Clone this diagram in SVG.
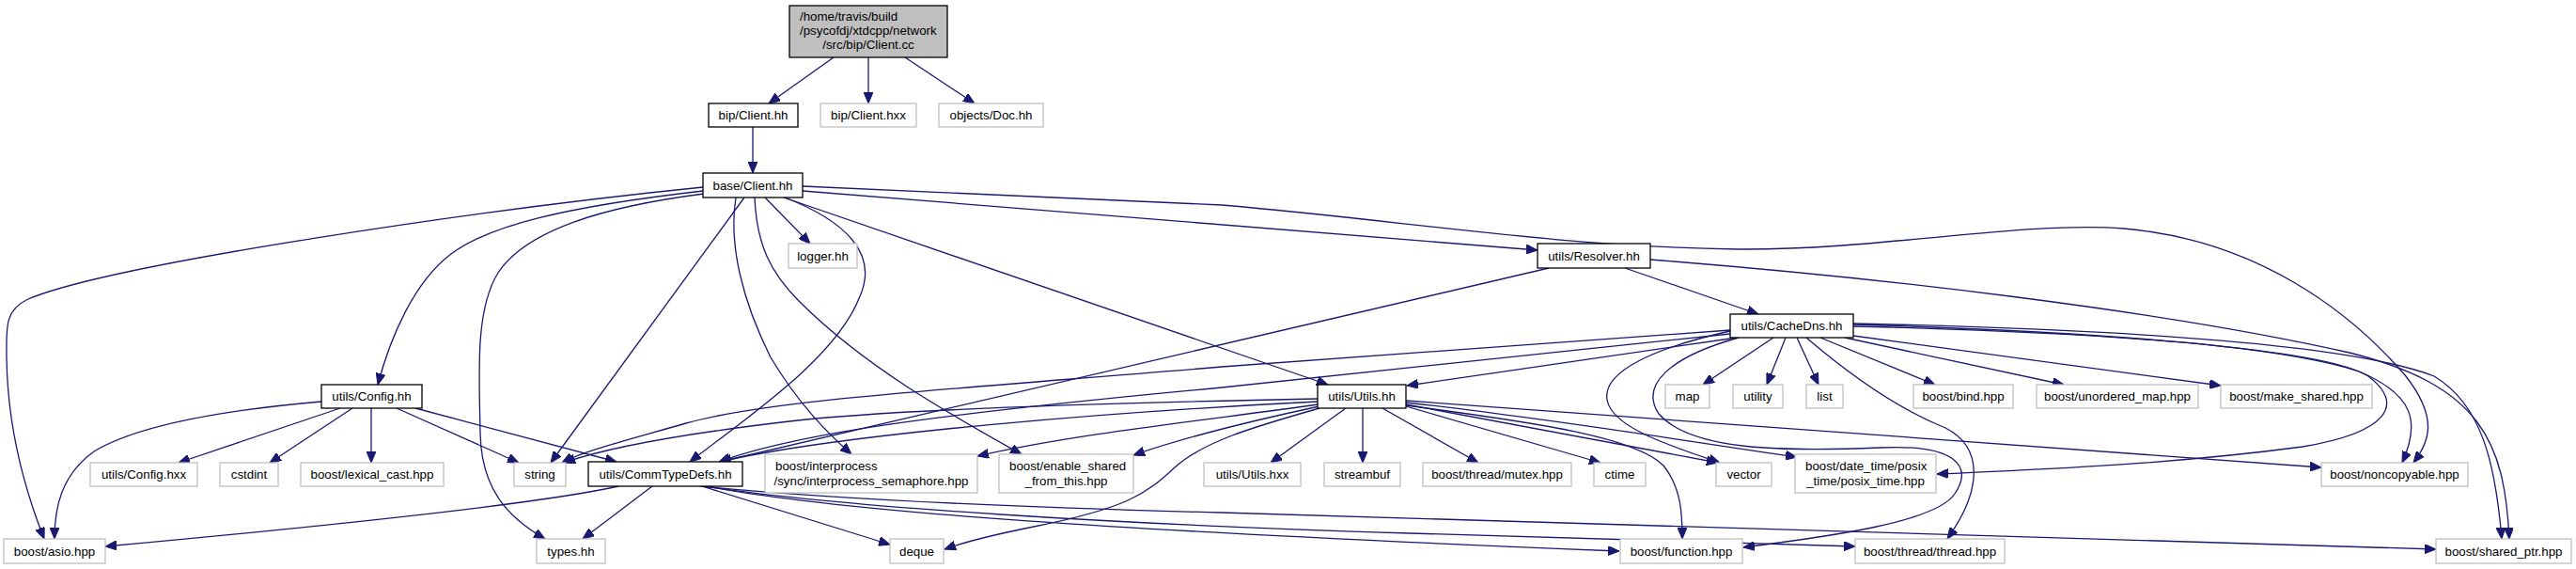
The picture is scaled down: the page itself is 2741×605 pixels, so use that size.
<svg xmlns="http://www.w3.org/2000/svg" width="2741" height="605" viewBox="0 0 2741 605">
<defs>
<style>
rect{fill:#fff;stroke-width:1.3}
.d rect{stroke:#000}
.x rect{stroke:#bfbfbf}
.r rect{fill:#bfbfbf;stroke:#000}
text{font-family:"Liberation Sans",Arial,sans-serif;font-size:13.3px;fill:#000;text-anchor:middle}
text.l{text-anchor:start}
#edges path{fill:none;stroke:#191970;stroke-width:1.3;marker-end:url(#a)}
</style>
<marker id="a" viewBox="0 0 12 10" refX="12" refY="5" markerWidth="12" markerHeight="10" markerUnits="userSpaceOnUse" orient="auto">
<path d="M0,0 L12,5 L0,10 z" fill="#191970" stroke="#191970"/>
</marker>
</defs>
<rect x="0" y="0" width="2741" height="605" style="fill:#fff;stroke:none"/>
<g id="edges">
<path d="M887,61 L818,110"/>
<path d="M924,61 L924,110"/>
<path d="M963,61 L1037,110"/>
<path d="M801,135 L801,184"/>
<path d="M748,199 C520,222 120,280 30,318 C4,330 7,350 7,380 C8,460 30,530 47,573"/>
<path d="M748,203 C600,220 520,240 480,270 C440,300 415,360 402,409"/>
<path d="M749,206 C640,220 560,245 530,290 C505,330 510,400 511,460 C512,520 540,550 580,573"/>
<path d="M792,210 L586,492"/>
<path d="M835,210 C900,235 935,270 915,315 C890,380 800,440 734,491"/>
<path d="M814,210 L862,259"/>
<path d="M783,210 C775,260 790,320 820,380 C850,430 880,460 906,483"/>
<path d="M803,210 C805,260 820,290 850,320 C920,390 1010,440 1087,483"/>
<path d="M834,210 L1413,409"/>
<path d="M854,203 L1636,266"/>
<path d="M854,198 L1300,218 C1500,235 1650,262 1850,265 C2000,266 2150,235 2260,243 C2400,255 2500,330 2560,400 C2595,445 2585,470 2568,492"/>
<path d="M1648,285 L766,491"/>
<path d="M1729,285 L1871,334"/>
<path d="M1756,276 C2000,295 2300,330 2500,375 C2640,410 2665,470 2670,573"/>
<path d="M1841,351 L1300,390 C1000,415 820,425 730,450 C660,470 620,480 598,492"/>
<path d="M1841,355 L1300,412 C1000,440 850,460 765,491"/>
<path d="M1848,359 L1497,410"/>
<path d="M1841,352 C1760,370 1705,395 1710,425 C1715,455 1780,475 1830,492"/>
<path d="M1850,359 C1775,380 1745,410 1765,440 C1800,480 1900,480 2000,476 C2080,472 2100,495 2080,525 C2060,555 1950,570 1855,582"/>
<path d="M1887,359 L1812,409"/>
<path d="M1900,359 L1880,409"/>
<path d="M1912,359 L1935,409"/>
<path d="M1922,359 C1970,400 2020,435 2070,455 C2110,475 2110,520 2072,573"/>
<path d="M1937,359 L2059,409"/>
<path d="M1963,359 L2196,409"/>
<path d="M1972,357 L2363,410"/>
<path d="M1972,345 C2200,352 2420,365 2510,395 C2570,420 2575,450 2556,492"/>
<path d="M1972,344 C2250,350 2500,365 2590,400 C2640,430 2655,490 2662,573"/>
<path d="M1972,347 C2300,355 2480,375 2520,400 C2560,430 2540,460 2450,475 C2300,495 2150,500 2061,504"/>
<path d="M342,427 C250,435 150,450 100,480 C65,505 58,540 58,573"/>
<path d="M362,434 L190,492"/>
<path d="M375,434 L287,492"/>
<path d="M395,434 L395,492"/>
<path d="M422,434 L552,492"/>
<path d="M442,434 L656,491"/>
<path d="M1402,424 C1200,428 950,435 840,448 C720,462 640,478 600,492"/>
<path d="M1402,427 C1200,437 900,460 766,491"/>
<path d="M1402,430 C1300,445 1150,460 1040,485"/>
<path d="M1404,432 C1320,450 1260,465 1206,484"/>
<path d="M1404,434 C1330,455 1280,470 1250,497 C1220,525 1200,540 1100,560 C1060,568 1030,575 1005,584"/>
<path d="M1432,434 L1352,492"/>
<path d="M1450,434 L1450,492"/>
<path d="M1471,434 L1573,492"/>
<path d="M1496,432 L1703,492"/>
<path d="M1496,430 L1828,492"/>
<path d="M1496,428 C1650,445 1800,470 1912,486"/>
<path d="M1496,431 C1640,450 1740,465 1770,495 C1790,520 1790,550 1790,573"/>
<path d="M1496,426 L2470,497"/>
<path d="M658,517 C600,530 450,550 112,581"/>
<path d="M694,517 L620,573"/>
<path d="M747,517 L947,579"/>
<path d="M752,517 C900,545 1200,565 1723,586"/>
<path d="M750,517 C900,540 1200,558 1500,567 C1700,573 1850,577 1974,581"/>
<path d="M745,517 C900,532 1100,540 1300,545 C1800,560 2200,572 2592,584"/>
</g>
<g id="root" class="r"><rect x="840" y="6" width="168" height="55"/><text class="l" x="851" y="22">/home/travis/build</text><text class="l" x="851" y="37">/psycofdj/xtdcpp/network</text><text x="924" y="52">/src/bip/Client.cc</text></g>
<g id="bip_client_hh" class="d"><rect x="754" y="110" width="95" height="25"/><text x="801.5" y="127">bip/Client.hh</text></g>
<g id="bip_client_hxx" class="x"><rect x="873" y="110" width="102" height="25"/><text x="924" y="127">bip/Client.hxx</text></g>
<g id="objects_doc" class="x"><rect x="999" y="110" width="111" height="25"/><text x="1054.5" y="127">objects/Doc.hh</text></g>
<g id="base_client" class="d"><rect x="748" y="184" width="106" height="26"/><text x="801" y="201.5">base/Client.hh</text></g>
<g id="logger" class="x"><rect x="839" y="259" width="73" height="26"/><text x="875.5" y="276.5">logger.hh</text></g>
<g id="resolver" class="d"><rect x="1636" y="259" width="120" height="26"/><text x="1696" y="276.5">utils/Resolver.hh</text></g>
<g id="cachedns" class="d"><rect x="1841" y="334" width="131" height="25"/><text x="1906.5" y="351">utils/CacheDns.hh</text></g>
<g id="config_hh" class="d"><rect x="342" y="409" width="107" height="25"/><text x="395.5" y="426">utils/Config.hh</text></g>
<g id="utils_hh" class="d"><rect x="1402" y="409" width="94" height="25"/><text x="1449" y="426">utils/Utils.hh</text></g>
<g id="map" class="x"><rect x="1772" y="409" width="47" height="25"/><text x="1795.5" y="426">map</text></g>
<g id="utility" class="x"><rect x="1844" y="409" width="53" height="25"/><text x="1870.5" y="426">utility</text></g>
<g id="list" class="x"><rect x="1922" y="409" width="39" height="25"/><text x="1941.5" y="426">list</text></g>
<g id="bind" class="x"><rect x="2036" y="409" width="106" height="25"/><text x="2089" y="426">boost/bind.hpp</text></g>
<g id="unordered_map" class="x"><rect x="2167" y="409" width="172" height="25"/><text x="2253" y="426">boost/unordered_map.hpp</text></g>
<g id="make_shared" class="x"><rect x="2363" y="409" width="161" height="25"/><text x="2443.5" y="426">boost/make_shared.hpp</text></g>
<g id="config_hxx" class="x"><rect x="96" y="492" width="114" height="25"/><text x="153" y="509">utils/Config.hxx</text></g>
<g id="cstdint" class="x"><rect x="234" y="492" width="62" height="25"/><text x="265" y="509">cstdint</text></g>
<g id="lexical_cast" class="x"><rect x="320" y="492" width="152" height="25"/><text x="396" y="509">boost/lexical_cast.hpp</text></g>
<g id="string" class="x"><rect x="547" y="492" width="55" height="25"/><text x="574.5" y="509">string</text></g>
<g id="commtypedefs" class="d"><rect x="626" y="491" width="164" height="26"/><text x="708" y="508.5">utils/CommTypeDefs.hh</text></g>
<g id="semaphore" class="x"><rect x="814" y="483" width="226" height="41"/><text class="l" x="825" y="500">boost/interprocess</text><text x="927" y="515.5">/sync/interprocess_semaphore.hpp</text></g>
<g id="enable_shared" class="x"><rect x="1063" y="483" width="143" height="41"/><text class="l" x="1074" y="500">boost/enable_shared</text><text x="1134.5" y="515.5">_from_this.hpp</text></g>
<g id="utils_hxx" class="x"><rect x="1281" y="492" width="103" height="25"/><text x="1332.5" y="509">utils/Utils.hxx</text></g>
<g id="streambuf" class="x"><rect x="1409" y="492" width="81" height="25"/><text x="1449.5" y="509">streambuf</text></g>
<g id="mutex" class="x"><rect x="1514" y="492" width="158" height="25"/><text x="1593" y="509">boost/thread/mutex.hpp</text></g>
<g id="ctime" class="x"><rect x="1696" y="492" width="55" height="25"/><text x="1723.5" y="509">ctime</text></g>
<g id="vector" class="x"><rect x="1826" y="492" width="59" height="25"/><text x="1855.5" y="509">vector</text></g>
<g id="posix_time" class="x"><rect x="1910" y="483" width="150" height="41"/><text class="l" x="1921" y="500">boost/date_time/posix</text><text x="1985" y="515.5">_time/posix_time.hpp</text></g>
<g id="noncopyable" class="x"><rect x="2470" y="492" width="156" height="25"/><text x="2548" y="509">boost/noncopyable.hpp</text></g>
<g id="asio" class="x"><rect x="4" y="573" width="108" height="26"/><text x="58" y="590.5">boost/asio.hpp</text></g>
<g id="types" class="x"><rect x="571" y="573" width="73" height="26"/><text x="607.5" y="590.5">types.hh</text></g>
<g id="deque" class="x"><rect x="947" y="573" width="57" height="26"/><text x="975.5" y="590.5">deque</text></g>
<g id="function" class="x"><rect x="1724" y="573" width="130" height="26"/><text x="1789" y="590.5">boost/function.hpp</text></g>
<g id="thread" class="x"><rect x="1974" y="573" width="159" height="26"/><text x="2053.5" y="590.5">boost/thread/thread.hpp</text></g>
<g id="shared_ptr" class="x"><rect x="2592" y="573" width="144" height="26"/><text x="2664" y="590.5">boost/shared_ptr.hpp</text></g>
</svg>
